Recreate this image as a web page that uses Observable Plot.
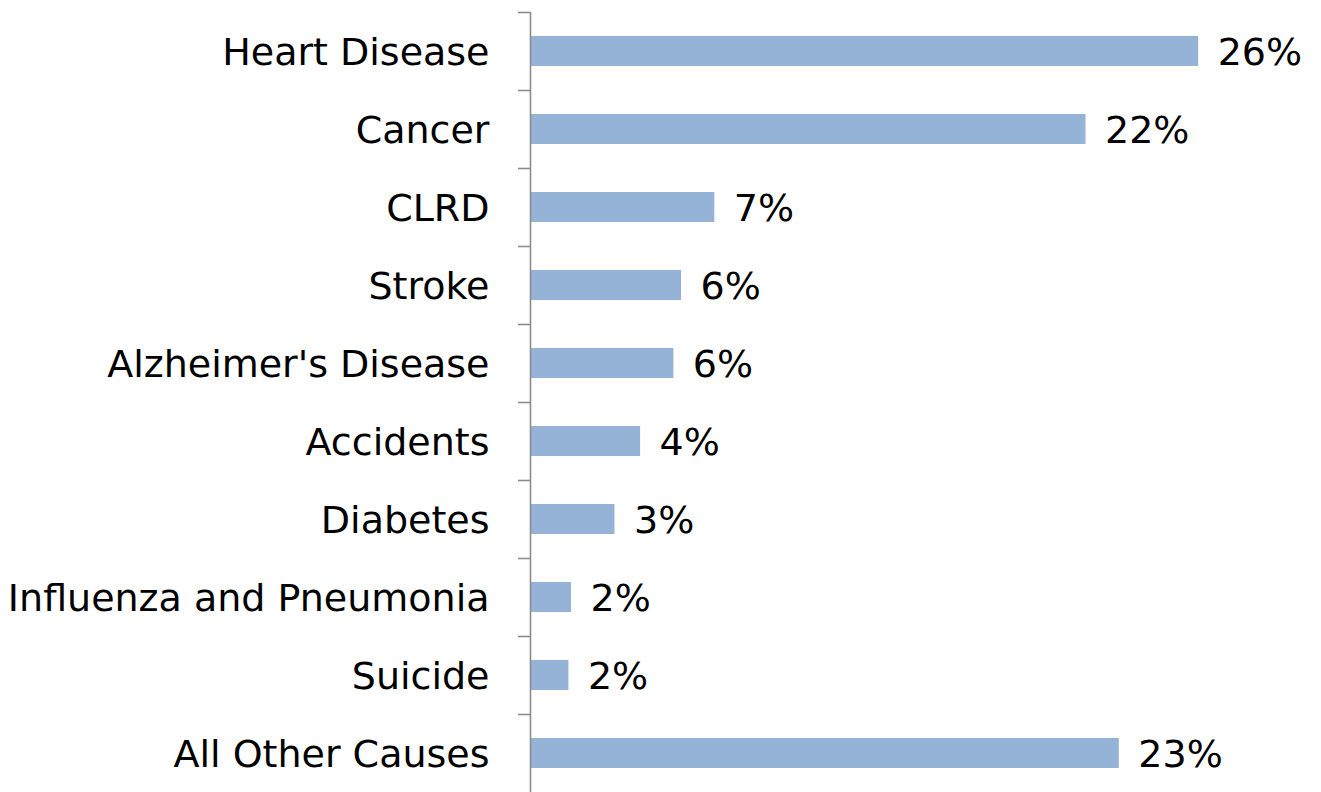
<!DOCTYPE html>
<html>
<head>
<meta charset="utf-8">
<script src="https://cdn.jsdelivr.net/npm/d3@7"></script>
<script src="https://cdn.jsdelivr.net/npm/@observablehq/plot@0.6"></script>
<style>
  html, body { margin: 0; padding: 0; background: #fff; }
  #chart svg { display: block; }
</style>
</head>
<body>
<div id="chart"></div>
<script>
const causes = ["Heart Disease", "Cancer", "CLRD", "Stroke", "Alzheimer's Disease", "Accidents", "Diabetes", "Influenza and Pneumonia", "Suicide", "All Other Causes"];
const shares = [26.1, 21.7, 7.2, 5.9, 5.6, 4.3, 3.3, 1.6, 1.5, 23.0];
const xDomain = [0, 30];

const data = causes.map((c, i) => ({cause: c, share: shares[i]}));

const W = 1321, H = 792, mTop = 12, mBottom = 0, mLeft = 530, mRight = 23;
const step = (H - mTop - mBottom) / causes.length;
const font = "'DejaVu Sans', sans-serif";

const chart = Plot.plot({
  width: W,
  height: H,
  marginTop: mTop,
  marginBottom: mBottom,
  marginLeft: mLeft,
  marginRight: mRight,
  style: {fontFamily: font, fontSize: "38px", color: "#000", background: "#fff"},
  x: {domain: xDomain, axis: null},
  y: {domain: causes, paddingInner: 0.615, paddingOuter: 0.3075, label: null},
  marks: [
    Plot.barX(data, {x: "share", y: "cause", fill: "#95b3d7"}),
    Plot.ruleX([0], {stroke: "#8c8c8c", strokeWidth: 1.6}),
    Plot.ruleY(causes, {y: d => d, x1: () => 0, x2: () => 0, insetLeft: -12, dy: -step / 2, stroke: "#8c8c8c", strokeWidth: 1.6}),
    Plot.axisY({tickSize: 0, tickPadding: 41, fontSize: 38, fill: "#000", label: null, dy: 1}),
    Plot.text(data, {x: "share", y: "cause", text: d => d3.format(".0f")(d.share) + "%", dx: 19, dy: 1, textAnchor: "start", fontSize: 38, fill: "#000"})
  ]
});
document.getElementById("chart").appendChild(chart);
</script>
</body>
</html>
